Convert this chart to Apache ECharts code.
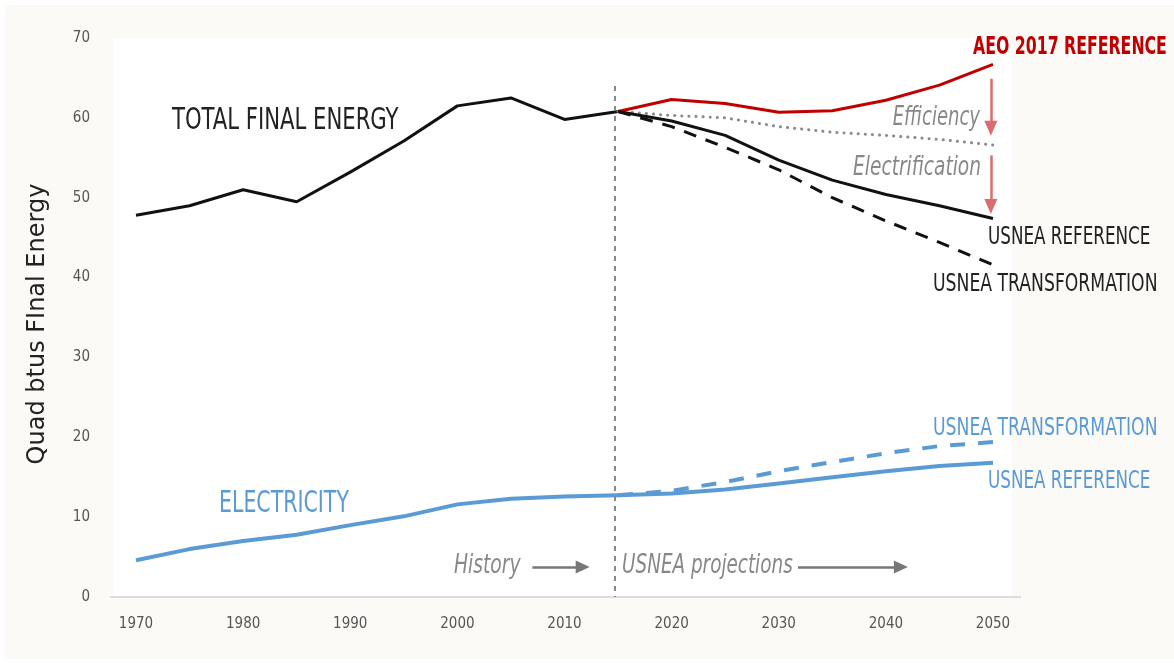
<!DOCTYPE html>
<html>
<head>
<meta charset="utf-8">
<script src="https://cdn.jsdelivr.net/npm/echarts@6/dist/echarts.min.js"></script>
<style>
html,body{margin:0;padding:0;background:#ffffff;}
#chart{width:1174px;height:664px;}
</style>
</head>
<body>
<div id="chart"></div>
<script>
// ---- data ----
const xTicks = [1970, 1980, 1990, 2000, 2010, 2020, 2030, 2040, 2050];
const yTicks = [0, 10, 20, 30, 40, 50, 60, 70];

const histYears = [1970, 1975, 1980, 1985, 1990, 1995, 2000, 2005, 2010, 2015];
const totalHistory = [47.8, 49.0, 51.0, 49.5, 53.2, 57.1, 61.5, 62.5, 59.8, 60.8];
const electricityHistory = [4.6, 6.0, 7.0, 7.8, 9.0, 10.1, 11.6, 12.3, 12.6, 12.75];

const projYears = [2015, 2020, 2025, 2030, 2035, 2040, 2045, 2050];
const aeo2017Reference = [60.8, 62.3, 61.8, 60.7, 60.9, 62.2, 64.1, 66.7];
const efficiencyPath = [60.8, 60.3, 60.0, 58.9, 58.2, 57.8, 57.3, 56.6];
const usneaReferenceTotal = [60.8, 59.6, 57.8, 54.7, 52.2, 50.4, 49.0, 47.4];
const usneaTransformationTotal = [60.8, 58.9, 56.3, 53.5, 50.0, 47.1, 44.4, 41.6];
const usneaReferenceElec = [12.75, 12.95, 13.45, 14.2, 15.0, 15.75, 16.4, 16.8];
const usneaTransformationElec = [12.75, 13.3, 14.4, 15.75, 16.9, 18.0, 18.9, 19.4];

// ---- helpers ----
function pairs(xs, ys) { return xs.map((x, i) => [x, ys[i]]); }

const FONT = "'Liberation Sans Narrow', 'DejaVu Sans Condensed', sans-serif";
const BLACK = '#111111';
const RED = '#c00000';
const BLUE = '#5b9bd5';
const GRAY = '#888888';
const ARROW_RED = '#dc6b6d';

const chart = echarts.init(document.getElementById('chart'), null, {renderer: 'canvas'});

function lineSeries(name, data, color, width, type, cap, extra) {
  return Object.assign({
    name: name,
    type: 'line',
    data: data,
    showSymbol: false,
    symbol: 'none',
    silent: true,
    z: 3,
    lineStyle: {color: color, width: width, type: type || 'solid', cap: cap || 'butt', join: 'round'}
  }, extra || {});
}

function txt(text, x, y, size, color, opts) {
  opts = opts || {};
  return {
    type: 'text',
    x: x, y: y,
    scaleX: opts.scaleX || 1,
    rotation: opts.rotation || 0,
    z: 20,
    style: {
      text: text,
      fill: color,
      font: (opts.italic ? 'italic ' : '') + (opts.bold ? 'bold ' : '') + size + 'px ' + (opts.family || FONT),
      textAlign: opts.align || 'left',
      textVerticalAlign: 'middle'
    }
  };
}

const option = {
  animation: false,
  backgroundColor: '#ffffff',
  textStyle: {fontFamily: FONT},
  grid: {left: 136, right: 181, top: 38, bottom: 67, containLabel: false, outerBoundsMode: 'none'},
  xAxis: {
    type: 'value',
    min: xTicks[0], max: xTicks[xTicks.length - 1], interval: 10,
    axisLine: {show: false}, axisTick: {show: false}, splitLine: {show: false},
    axisLabel: {color: '#555555', fontSize: 15, margin: 20, fontFamily: FONT, formatter: v => String(v)}
  },
  yAxis: {
    type: 'value',
    min: yTicks[0], max: yTicks[yTicks.length - 1], interval: 10,
    axisLine: {show: false}, axisTick: {show: false}, splitLine: {show: false},
    axisLabel: {color: '#555555', fontSize: 15, margin: 46, fontFamily: FONT, formatter: v => String(v)}
  },
  graphic: {
    elements: [
      {type: 'rect', shape: {x: 5, y: 5, width: 1169, height: 654}, style: {fill: '#fbfaf6'}, z: -10, silent: true},
      {type: 'rect', shape: {x: 113, y: 38, width: 899, height: 559}, style: {fill: '#ffffff'}, z: -9, silent: true},
      {type: 'line', shape: {x1: 110, y1: 597, x2: 1021, y2: 597}, style: {stroke: '#dddddd', lineWidth: 2}, z: -8, silent: true},
      txt('TOTAL FINAL ENERGY', 172, 121, 30, '#222222', {scaleX: 0.785}),
      txt('AEO 2017 REFERENCE', 973, 47, 25, RED, {scaleX: 0.70, bold: true}),
      txt('Efficiency', 980, 118, 26, GRAY, {italic: true, align: 'right', scaleX: 0.77}),
      txt('Electrification', 981, 168, 26, GRAY, {italic: true, align: 'right', scaleX: 0.795}),
      txt('USNEA REFERENCE', 988, 237, 25, '#222222', {scaleX: 0.745}),
      txt('USNEA TRANSFORMATION', 933, 284, 25, '#222222', {scaleX: 0.766}),
      txt('USNEA TRANSFORMATION', 933, 428, 25, BLUE, {scaleX: 0.766}),
      txt('USNEA REFERENCE', 988, 481, 25, BLUE, {scaleX: 0.745}),
      txt('ELECTRICITY', 219, 504, 30, BLUE, {scaleX: 0.76}),
      txt('History', 454, 566, 26, GRAY, {italic: true, scaleX: 0.80}),
      txt('USNEA projections', 622, 566, 26, GRAY, {italic: true, scaleX: 0.786}),
      txt('Quad btus FInal Energy', 38, 324, 24, '#222222', {rotation: Math.PI / 2, align: 'center', family: "'DejaVu Sans', sans-serif"})
    ]
  },
  series: [
    lineSeries('Total final energy (history)', pairs(histYears, totalHistory), BLACK, 3),
    lineSeries('Electricity (history)', pairs(histYears, electricityHistory), BLUE, 4),
    lineSeries('Efficiency', pairs(projYears, efficiencyPath), '#8a8a8a', 3, [0.1, 7], 'round'),
    lineSeries('AEO 2017 Reference', pairs(projYears, aeo2017Reference), RED, 3),
    lineSeries('USNEA Transformation (total)', pairs(projYears, usneaTransformationTotal), BLACK, 3, [13, 10]),
    lineSeries('USNEA Reference (total)', pairs(projYears, usneaReferenceTotal), BLACK, 3),
    lineSeries('USNEA Transformation (electricity)', pairs(projYears, usneaTransformationElec), BLUE, 4, [15, 13]),
    lineSeries('USNEA Reference (electricity)', pairs(projYears, usneaReferenceElec), BLUE, 4, 'solid', 'butt', {
      markLine: {
        silent: true,
        animation: false,
        label: {show: false},
        emphasis: {disabled: true},
        data: [
          // projection divider
          [{coord: [2014.7, 64], symbol: 'none', lineStyle: {color: '#888888', width: 2, type: [5, 5]}},
           {coord: [2014.7, 0], symbol: 'none'}],
          // efficiency arrow
          [{coord: [2049.8, 64.9], symbol: 'none', lineStyle: {color: ARROW_RED, width: 2.5, type: 'solid'}},
           {coord: [2049.8, 58.7], symbol: 'triangle', symbolSize: [13, 15]}],
          // electrification arrow
          [{coord: [2049.8, 55.3], symbol: 'none', lineStyle: {color: ARROW_RED, width: 2.5, type: 'solid'}},
           {coord: [2049.8, 48.9], symbol: 'triangle', symbolSize: [13, 15]}],
          // history arrow
          [{coord: [2007.0, 3.75], symbol: 'none', lineStyle: {color: '#777777', width: 2.5, type: 'solid'}},
           {coord: [2011.7, 3.75], symbol: 'triangle', symbolSize: [13, 14]}],
          // projections arrow
          [{coord: [2031.8, 3.75], symbol: 'none', lineStyle: {color: '#777777', width: 2.5, type: 'solid'}},
           {coord: [2041.4, 3.75], symbol: 'triangle', symbolSize: [13, 14]}]
        ]
      }
    })
  ]
};

chart.setOption(option);
</script>
</body>
</html>
